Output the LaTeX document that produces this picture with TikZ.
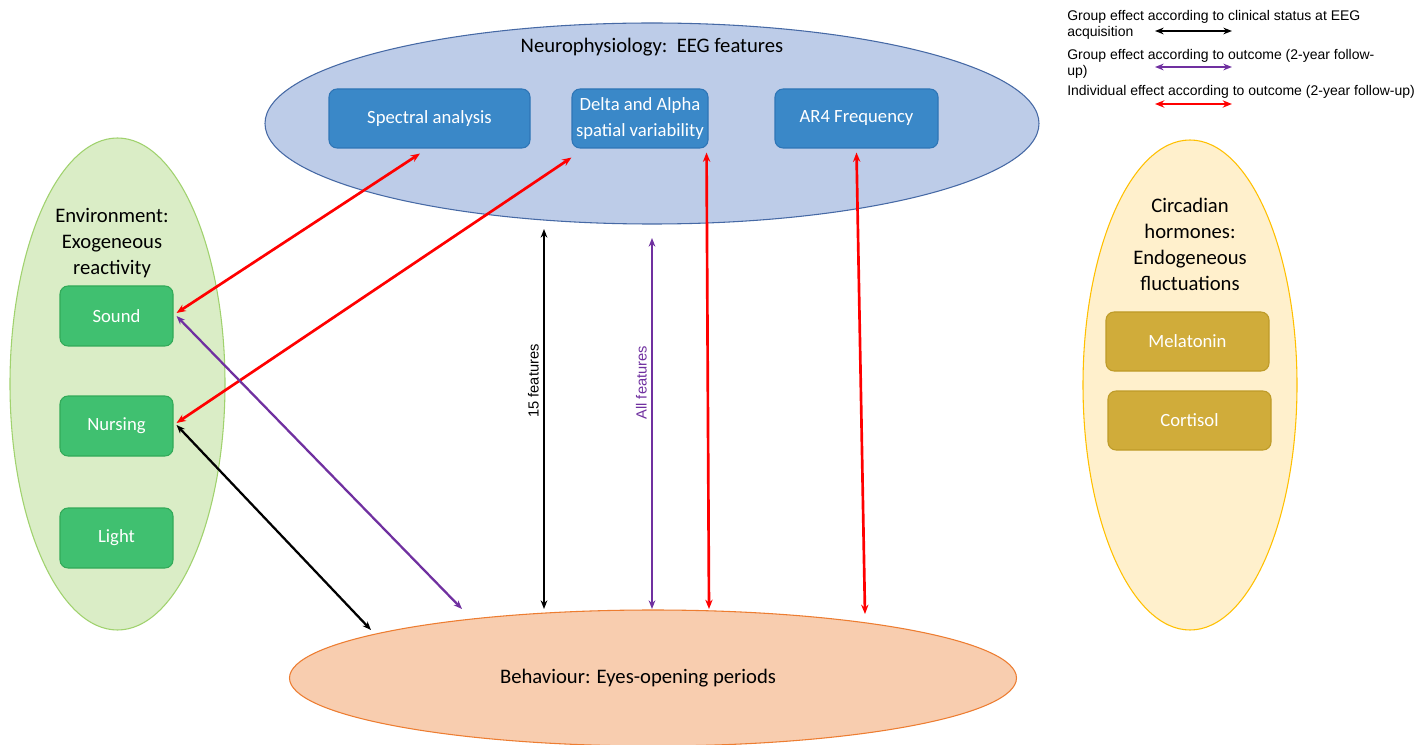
\documentclass[tikz,border=0pt]{standalone}
\usepackage{fontspec}
\setmainfont{Carlito}
\newfontfamily\legfont{Liberation Sans}
\usetikzlibrary{arrows.meta,shapes.geometric}
\definecolor{blueell}{RGB}{189,204,232}
\definecolor{blueelldraw}{RGB}{70,105,165}
\definecolor{bluebox}{RGB}{58,136,200}
\definecolor{blueboxdraw}{RGB}{46,117,182}
\definecolor{greenell}{RGB}{218,237,198}
\definecolor{greenelldraw}{RGB}{160,210,110}
\definecolor{greenbox}{RGB}{64,192,112}
\definecolor{greenboxdraw}{RGB}{50,170,88}
\definecolor{yellowell}{RGB}{255,240,204}
\definecolor{yellowelldraw}{RGB}{255,192,0}
\definecolor{goldbox}{RGB}{208,172,58}
\definecolor{goldboxdraw}{RGB}{190,155,40}
\definecolor{orangeell}{RGB}{248,205,175}
\definecolor{orangeelldraw}{RGB}{237,125,49}
\definecolor{myred}{RGB}{255,0,0}
\definecolor{mypurple}{RGB}{112,48,160}
\tikzset{
  bigell/.style={ellipse, inner sep=0pt, line width=0.8pt},
  boxbase/.style={rounded corners=6pt, line width=0.8pt, text=white, align=center,
    font=\fontsize{14}{19.5}\selectfont, inner sep=2pt},
  bluebx/.style={boxbase, fill=bluebox, draw=blueboxdraw, minimum height=44.25pt},
  greenbx/.style={boxbase, fill=greenbox, draw=greenboxdraw, minimum width=84.75pt, minimum height=45pt},
  goldbx/.style={boxbase, fill=goldbox, draw=goldboxdraw, minimum width=122.25pt, minimum height=44.25pt},
  titletext/.style={align=center, font=\fontsize{15.5}{19.5}\selectfont, inner sep=0pt},
  legtext/.style={anchor=north west, align=left, font=\legfont\fontsize{10.5}{12}\selectfont, inner sep=0pt},
  redarr/.style={draw=myred, line width=2pt, {Stealth[length=7pt,width=5.5pt]}-{Stealth[length=7pt,width=5.5pt]}},
  purparr/.style={draw=mypurple, line width=1.7pt, {Stealth[length=6.5pt,width=5pt]}-{Stealth[length=6.5pt,width=5pt]}},
  blackarr/.style={draw=black, line width=1.7pt, {Stealth[length=6.5pt,width=5pt]}-{Stealth[length=6.5pt,width=5pt]}},
}
\begin{document}
\begin{tikzpicture}[x=0.75pt,y=-0.75pt]
\useasboundingbox (0,0) rectangle (1421,745);
\fill[white] (0,0) rectangle (1421,745);

% big ellipses
\node[bigell, fill=blueell, draw=blueelldraw, minimum width=580.5pt, minimum height=150.75pt] (neuro) at (652,123.5) {};
\node[bigell, fill=greenell, draw=greenelldraw, minimum width=161.25pt, minimum height=369pt] (env) at (117.5,384) {};
\node[bigell, fill=yellowell, draw=yellowelldraw, minimum width=160.5pt, minimum height=367.5pt] (circ) at (1190,385) {};
\node[bigell, fill=orangeell, draw=orangeelldraw, minimum width=545.25pt, minimum height=102pt] (beh) at (653,678) {};

% titles
\node[titletext] (neurot) at (652,47) {Neurophysiology:\ \ EEG features};
\node[titletext] (envt) at (112,243) {Environment:\\Exogeneous\\reactivity};
\node[titletext] (circt) at (1190,244.5) {Circadian\\hormones:\\Endogeneous\\fluctuations};
\node[titletext] (beht) at (638,678) {Behaviour: Eyes-opening periods};

% boxes
\node[bluebx, minimum width=150.75pt] (spec) at (429.5,118.5) {Spectral analysis};
\node[bluebx, minimum width=102pt] (delta) at (640,118.5) {Delta and Alpha\\spatial variability};
\node[bluebx, minimum width=122.25pt] (ar4) at (856.5,118.5) {AR4 Frequency};

\node[greenbx] (sound) at (116.5,316) {Sound};
\node[greenbx] (nurs) at (116.5,426) {Nursing};
\node[greenbx] (light) at (116.5,538) {Light};

\node[goldbx] (mela) at (1187.5,341.5) {Melatonin};
\node[goldbx] (cort) at (1189.5,420.5) {Cortisol};

% coordinates on behaviour ellipse
\coordinate (bp1) at (462,609);
\coordinate (bk1) at (371,630);
\coordinate (bk2) at (544,609);
\coordinate (bp2) at (652,609);
\coordinate (br3) at (709,609);
\coordinate (br4) at (865,614);
\coordinate (tk2) at (544,229);
\coordinate (tp2) at (652,238);

% connectors
\draw[redarr] ([shift={(-9.5,5)}]spec.south) -- ([shift={(3,-3)}]sound.east);
\draw[redarr] ([shift={(0,9)}]delta.south west) -- ([shift={(3,-3)}]nurs.east);
\draw[purparr] ([shift={(3,0)}]sound.east) -- (bp1);
\draw[blackarr] ([shift={(3,-1)}]nurs.east) -- (bk1);
\draw[blackarr] (tk2) -- (bk2) node[pos=0.4, rotate=90, above=3pt, font=\legfont\fontsize{11}{12}\selectfont, inner sep=0pt] (l15) {15 features};
\draw[purparr] (tp2) -- (bp2) node[pos=0.39, rotate=90, above=3pt, text=mypurple, font=\legfont\fontsize{11}{12}\selectfont, inner sep=0pt] (lall) {All features};
\draw[redarr] ([shift={(-2,4)}]delta.south east) -- (br3);
\draw[redarr] ([shift={(0,4)}]ar4.south) -- (br4);

% legend
\node[legtext] (leg1) at (1067,10) {Group effect according to clinical status at EEG\\acquisition};
\node[legtext] (leg2) at (1067,49) {Group effect according to outcome (2-year follow-\\up)};
\node[legtext] (leg3) at (1067,85) {Individual effect according to outcome (2-year follow-up)};
\coordinate (k1a) at (1155,31); \coordinate (k1b) at (1232,31);
\coordinate (k2a) at (1155,67); \coordinate (k2b) at (1232,67);
\coordinate (k3a) at (1155,104); \coordinate (k3b) at (1232,104);
\draw[blackarr, line width=1.5pt] (k1a) -- (k1b);
\draw[purparr, line width=1.5pt] (k2a) -- (k2b);
\draw[redarr, line width=1.7pt] (k3a) -- (k3b);
\end{tikzpicture}
\end{document}
